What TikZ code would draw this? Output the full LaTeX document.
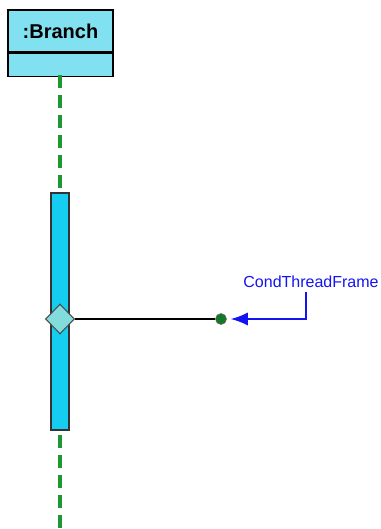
\documentclass[tikz,border=0pt]{standalone}
\usepackage{fontspec}
\setmainfont{Liberation Sans}
\usetikzlibrary{shapes.geometric,arrows.meta}
\definecolor{boxfill}{RGB}{130,225,240}
\definecolor{barfill}{RGB}{20,205,240}
\definecolor{lifegreen}{RGB}{30,150,50}
\definecolor{dotgreen}{RGB}{20,120,40}
\definecolor{diafill}{RGB}{130,220,220}
\definecolor{labelblue}{RGB}{20,20,240}
\tikzset{
  objbox/.style={draw=black, line width=0.9pt, fill=boxfill, minimum width=105*0.75pt, minimum height=42*0.75pt, inner sep=0pt},
  objsub/.style={draw=black, line width=0.9pt, fill=boxfill, minimum width=105*0.75pt, minimum height=23*0.75pt, inner sep=0pt},
  actbar/.style={draw=black!80, line width=0.9pt, fill=barfill, minimum width=18*0.75pt, minimum height=237*0.75pt, inner sep=0pt},
  lifeline/.style={draw=lifegreen, line width=3.5*0.75pt, dash pattern=on 13*0.75pt off 7*0.75pt},
  cond/.style={diamond, draw=black!70, line width=0.8pt, fill=diafill, minimum width=29*0.75pt, minimum height=30*0.75pt, inner sep=0pt},
  gdot/.style={circle, draw=black!60, fill=dotgreen, minimum size=11*0.75pt, inner sep=0pt},
  lbl/.style={text=labelblue, font=\fontsize{12}{14}\selectfont, inner sep=1pt},
}
\begin{document}
\begin{tikzpicture}[x=0.75pt, y=-0.75pt]
\useasboundingbox (0,0) rectangle (381,529);
\node[objbox] (head) at (60.5,31) {\fontsize{15}{18}\selectfont\bfseries :Branch};
\node[objsub, anchor=north] (sub) at (head.south) {};
\coordinate (lifetop) at (60,75);
\coordinate (lifebot) at (60,529);
\draw[lifeline] (lifetop) -- (lifebot);
\node[actbar] (bar) at (60,311.5) {};
\node[cond] (dia) at (60,319) {};
\node[gdot] (dot) at (221,319) {};
\draw[black, line width=0.9pt] (dia.east) -- (dot.west);
\node[lbl] (label) at (311,282) {CondThreadFrame};
\coordinate (bend) at (306,319);
\coordinate (lblfoot) at (306,292);
\draw[labelblue, line width=1pt, -{Latex[length=17*0.75pt, width=13*0.75pt]}] (lblfoot) -- (bend) -- ([xshift=3pt]dot.east);
\end{tikzpicture}
\end{document}
